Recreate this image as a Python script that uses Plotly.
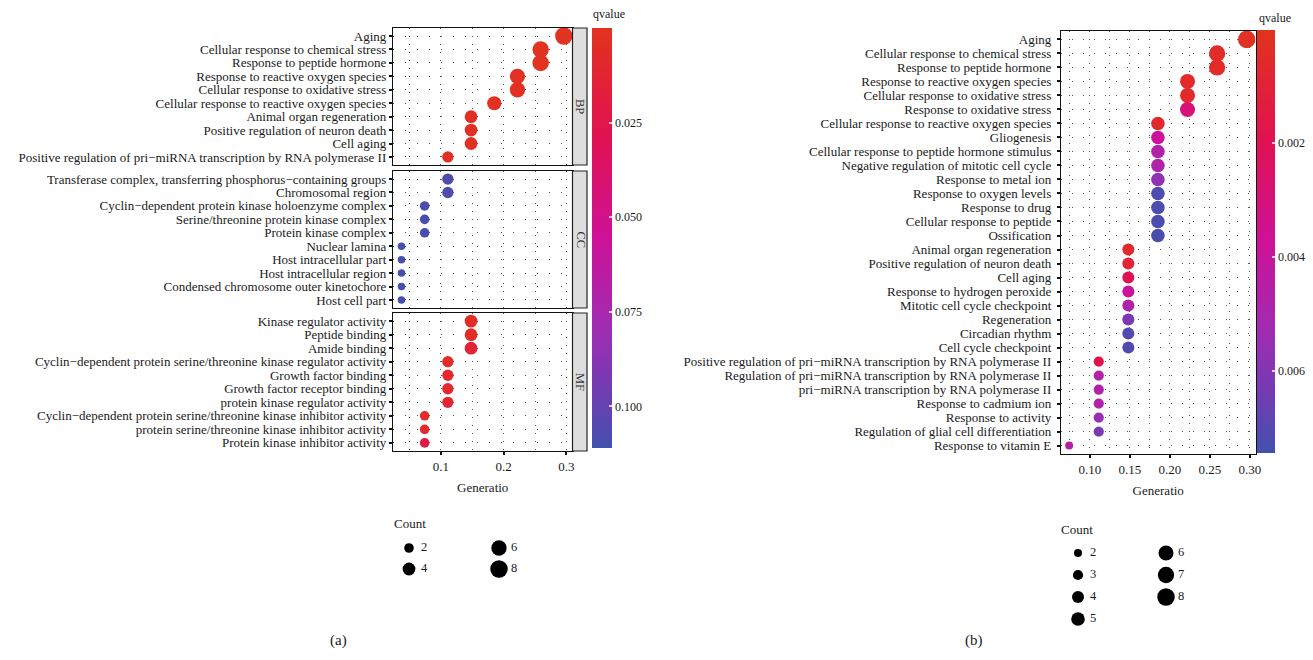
import math
import plotly.graph_objects as go

W, H = 1313, 660
FONT = "Liberation Serif"

# ---------------- Panel (a) data ----------------
bp_terms = ["Aging", "Cellular response to chemical stress", "Response to peptide hormone",
            "Response to reactive oxygen species", "Cellular response to oxidative stress",
            "Cellular response to reactive oxygen species", "Animal organ regeneration",
            "Positive regulation of neuron death", "Cell aging",
            "Positive regulation of pri−miRNA transcription by RNA polymerase II"]
bp_ratio = [0.296, 0.259, 0.259, 0.222, 0.222, 0.185, 0.148, 0.148, 0.148, 0.111]
bp_count = [8, 7, 7, 6, 6, 5, 4, 4, 4, 3]
bp_q = [0.001, 0.001, 0.001, 0.002, 0.002, 0.002, 0.003, 0.003, 0.003, 0.004]

cc_terms = ["Transferase complex, transferring phosphorus−containing groups", "Chromosomal region",
            "Cyclin−dependent protein kinase holoenzyme complex", "Serine/threonine protein kinase complex",
            "Protein kinase complex", "Nuclear lamina", "Host intracellular part",
            "Host intracellular region", "Condensed chromosome outer kinetochore", "Host cell part"]
cc_ratio = [0.111, 0.111, 0.074, 0.074, 0.074, 0.037, 0.037, 0.037, 0.037, 0.037]
cc_count = [3, 3, 2, 2, 2, 1, 1, 1, 1, 1]
cc_q = [0.108, 0.108, 0.109, 0.109, 0.109, 0.110, 0.110, 0.110, 0.110, 0.110]

mf_terms = ["Kinase regulator activity", "Peptide binding", "Amide binding",
            "Cyclin−dependent protein serine/threonine kinase regulator activity",
            "Growth factor binding", "Growth factor receptor binding", "protein kinase regulator activity",
            "Cyclin−dependent protein serine/threonine kinase inhibitor activity",
            "protein serine/threonine kinase inhibitor activity", "Protein kinase inhibitor activity"]
mf_ratio = [0.148, 0.148, 0.148, 0.111, 0.111, 0.111, 0.111, 0.074, 0.074, 0.074]
mf_count = [4, 4, 4, 3, 3, 3, 3, 2, 2, 2]
mf_q = [0.004, 0.005, 0.014, 0.006, 0.008, 0.008, 0.013, 0.006, 0.008, 0.022]

a_qrange = [0.0, 0.111]
a_qticks = [0.025, 0.050, 0.075, 0.100]
a_qtick_text = ["0.025", "0.050", "0.075", "0.100"]
a_xticks = [0.1, 0.2, 0.3]
a_xtick_text = ["0.1", "0.2", "0.3"]
a_legend_counts = [2, 4, 6, 8]

# ---------------- Panel (b) data ----------------
b_terms = ["Aging", "Cellular response to chemical stress", "Response to peptide hormone",
           "Response to reactive oxygen species", "Cellular response to oxidative stress",
           "Response to oxidative stress", "Cellular response to reactive oxygen species",
           "Gliogenesis", "Cellular response to peptide hormone stimulus",
           "Negative regulation of mitotic cell cycle", "Response to metal ion",
           "Response to oxygen levels", "Response to drug", "Cellular response to peptide",
           "Ossification", "Animal organ regeneration", "Positive regulation of neuron death",
           "Cell aging", "Response to hydrogen peroxide", "Mitotic cell cycle checkpoint",
           "Regeneration", "Circadian rhythm", "Cell cycle checkpoint",
           "Positive regulation of pri−miRNA transcription by RNA polymerase II",
           "Regulation of pri−miRNA transcription by RNA polymerase II",
           "pri−miRNA transcription by RNA polymerase II", "Response to cadmium ion",
           "Response to activity", "Regulation of glial cell differentiation", "Response to vitamin E"]
b_ratio = [0.296, 0.259, 0.259, 0.222, 0.222, 0.222, 0.185, 0.185, 0.185, 0.185, 0.185,
           0.185, 0.185, 0.185, 0.185, 0.148, 0.148, 0.148, 0.148, 0.148, 0.148, 0.148, 0.148,
           0.111, 0.111, 0.111, 0.111, 0.111, 0.111, 0.074]
b_count = [8, 7, 7, 6, 6, 6, 5, 5, 5, 5, 5, 5, 5, 5, 5, 4, 4, 4, 4, 4, 4, 4, 4,
           3, 3, 3, 3, 3, 3, 2]
b_q = [0.0002, 0.0004, 0.0004, 0.0005, 0.0006, 0.0029, 0.0006, 0.0038, 0.0047, 0.0048,
       0.0057, 0.0072, 0.0072, 0.0073, 0.0073, 0.0006, 0.0008, 0.0020, 0.0038, 0.0048,
       0.0062, 0.0071, 0.0071, 0.0018, 0.0047, 0.0047, 0.0047, 0.0055, 0.0062, 0.0046]

b_qrange = [0.00002, 0.00744]
b_qticks = [0.002, 0.004, 0.006]
b_qtick_text = ["0.002", "0.004", "0.006"]
b_xticks = [0.10, 0.15, 0.20, 0.25, 0.30]
b_xtick_text = ["0.10", "0.15", "0.20", "0.25", "0.30"]
b_legend_counts = [2, 3, 4, 5, 6, 7, 8]

# ---------------- helpers ----------------
def px(x):
    return x / W

def py(y):
    return 1 - y / H

def size_a(c):
    return math.sqrt(7.5 ** 2 + (17.5 ** 2 - 7.5 ** 2) * (c - 1) / 7)

def size_b(c):
    return math.sqrt(8 ** 2 + (17.5 ** 2 - 8 ** 2) * (c - 2) / 6)

# colour scale from low qvalue (red) to high qvalue (blue); the colour bar is drawn
# with low values at the top, so colours are mapped on the negated qvalue
low_to_high = [[0.0, "#E2331E"], [0.25, "#E1124F"], [0.5, "#CD1197"],
               [0.72, "#9E2DB3"], [0.87, "#6E3DB2"], [1.0, "#4351AD"]]
colorscale = [[1 - p, c] for p, c in reversed(low_to_high)]

def neg(v):
    return [-x for x in v]

TXT = "#1a1a1a"
GRID = "#555555"
LBL = 13

fig = go.Figure()

a_panels = [("BP", bp_terms, bp_ratio, bp_count, bp_q, "x2", "y", 28, 165),
            ("CC", cc_terms, cc_ratio, cc_count, cc_q, "x3", "y2", 171, 308),
            ("MF", mf_terms, mf_ratio, mf_count, mf_q, "x", "y3", 313, 451)]

A_L, A_R = 393, 572.5
for name, terms, ratio, count, q, xa, ya, top, bot in a_panels:
    fig.add_trace(go.Scatter(
        x=ratio, y=terms, mode="markers", xaxis=xa, yaxis=ya, showlegend=False,
        marker=dict(size=[size_a(c) for c in count], color=neg(q), coloraxis="coloraxis",
                    line=dict(width=0), opacity=1)))

fig.add_trace(go.Scatter(
    x=b_ratio, y=b_terms, mode="markers", xaxis="x4", yaxis="y4", showlegend=False,
    marker=dict(size=[size_b(c) for c in b_count], color=neg(b_q), coloraxis="coloraxis2",
                line=dict(width=0), opacity=1)))

# size legends (hidden pixel-space axes)
la_x = [409 + (i // 2) * 90 for i in range(len(a_legend_counts))]
la_y = [548 + (i % 2) * 21 for i in range(len(a_legend_counts))]
fig.add_trace(go.Scatter(x=la_x, y=la_y, mode="markers", xaxis="x5", yaxis="y5", showlegend=False,
                         marker=dict(size=[size_a(c) for c in a_legend_counts], color="black",
                                     opacity=1, line=dict(width=0))))
fig.add_trace(go.Scatter(x=[v + 12 for v in la_x], y=la_y, mode="text", xaxis="x5", yaxis="y5",
                         showlegend=False, text=[str(c) for c in a_legend_counts],
                         textposition="middle right", textfont=dict(family=FONT, size=12.5, color=TXT)))

lb_x = [1078 + (i // 4) * 88 for i in range(len(b_legend_counts))]
lb_y = [553 + (i % 4) * 22 for i in range(len(b_legend_counts))]
fig.add_trace(go.Scatter(x=lb_x, y=lb_y, mode="markers", xaxis="x6", yaxis="y6", showlegend=False,
                         marker=dict(size=[size_b(c) for c in b_legend_counts], color="black",
                                     opacity=1, line=dict(width=0))))
fig.add_trace(go.Scatter(x=[v + 12 for v in lb_x], y=lb_y, mode="text", xaxis="x6", yaxis="y6",
                         showlegend=False, text=[str(c) for c in b_legend_counts],
                         textposition="middle right", textfont=dict(family=FONT, size=12.5, color=TXT)))

tickfont = dict(family=FONT, size=LBL, color=TXT)

def xaxis_common(rng, minor_dtick):
    return dict(range=rng, showline=True, mirror=True, linecolor="#111", linewidth=1.3,
                showgrid=True, gridcolor=GRID, gridwidth=1, griddash="1px,7px",
                minor=dict(dtick=minor_dtick, showgrid=True, gridcolor=GRID, griddash="1px,7px",
                           gridwidth=1),
                zeroline=False, automargin=False, tickfont=tickfont, fixedrange=True)

def yaxis_common(terms, dash, standoff):
    n = len(terms)
    return dict(type="category", categoryorder="array", categoryarray=terms,
                tickmode="array", tickvals=terms, ticktext=terms,
                range=[n - 0.4, -0.6], showline=True, mirror=True, linecolor="#111", linewidth=1.3,
                showgrid=True, gridcolor=GRID, gridwidth=1, griddash=dash, zeroline=False,
                ticks="outside", ticklen=3, tickwidth=1.5, tickcolor="#111",
                ticklabelstandoff=standoff,
                automargin=False, tickfont=tickfont, fixedrange=True)

a_range = [0.0235, 0.3098]
xa_dom = [px(A_L), px(A_R)]
title_font = dict(family=FONT, size=13, color=TXT)

xaxis = xaxis_common(a_range, 0.05)
xaxis.update(domain=xa_dom, anchor="y3", tickvals=a_xticks, ticktext=a_xtick_text,
             ticks="outside", ticklen=3, tickwidth=1.5, tickcolor="#111",
             title=dict(text="Generatio", font=title_font, standoff=10))
xaxis2 = xaxis_common(a_range, 0.05)
xaxis2.update(domain=xa_dom, anchor="y", tickvals=a_xticks, showticklabels=False, ticks="")
xaxis3 = xaxis_common(a_range, 0.05)
xaxis3.update(domain=xa_dom, anchor="y2", tickvals=a_xticks, showticklabels=False, ticks="")

yaxis = yaxis_common(bp_terms, "1px,11px", 0)
yaxis.update(domain=[py(165), py(28)], anchor="x2")
yaxis2 = yaxis_common(cc_terms, "1px,11px", 0)
yaxis2.update(domain=[py(308), py(171)], anchor="x3")
yaxis3 = yaxis_common(mf_terms, "1px,11px", 0)
yaxis3.update(domain=[py(451), py(313)], anchor="x")

B_L, B_R = 1061, 1255.5
xaxis4 = xaxis_common([0.0638, 0.307], 0.025)
xaxis4.update(domain=[px(B_L), px(B_R)], anchor="y4", tickvals=b_xticks, ticktext=b_xtick_text,
              ticks="outside", ticklen=3, tickwidth=1.5, tickcolor="#111",
              title=dict(text="Generatio", font=title_font, standoff=10))
yaxis4 = yaxis_common(b_terms, "1px,10px", 3)
yaxis4.update(domain=[py(454), py(31)], anchor="x4")

hidden = dict(visible=False, fixedrange=True, showgrid=False, zeroline=False)
xaxis5 = dict(hidden, domain=[px(380), px(560)], range=[380, 560], anchor="y5")
yaxis5 = dict(hidden, domain=[py(600), py(505)], range=[600, 505], anchor="x5")
xaxis6 = dict(hidden, domain=[px(1040), px(1230)], range=[1040, 1230], anchor="y6")
yaxis6 = dict(hidden, domain=[py(640), py(510)], range=[640, 510], anchor="x6")

cbfont = dict(family=FONT, size=12, color=TXT)
coloraxis = dict(colorscale=colorscale, cmin=-a_qrange[1], cmax=-a_qrange[0],
                 colorbar=dict(x=px(592), xanchor="left", y=py(28), yanchor="top",
                               len=420 / H, lenmode="fraction", thickness=20, xpad=0, ypad=0,
                               outlinewidth=0, tickvals=neg(a_qticks), ticktext=a_qtick_text,
                               ticks="inside", ticklen=3, tickcolor="#f4c4e4", tickwidth=2,
                               tickfont=cbfont))
coloraxis2 = dict(colorscale=colorscale, cmin=-b_qrange[1], cmax=-b_qrange[0],
                  colorbar=dict(x=px(1257), xanchor="left", y=py(30), yanchor="top",
                                len=423 / H, lenmode="fraction", thickness=18, xpad=0, ypad=0,
                                outlinewidth=0, tickvals=neg(b_qticks), ticktext=b_qtick_text,
                                ticks="inside", ticklen=3, tickcolor="#f4c4e4", tickwidth=2,
                                tickfont=cbfont))

shapes = []
annotations = []
for name, terms, ratio, count, q, xa, ya, top, bot in a_panels:
    shapes.append(dict(type="rect", xref="paper", yref="paper", x0=px(A_R), x1=px(587),
                       y0=py(bot), y1=py(top), fillcolor="#DEDEDE",
                       line=dict(color="#222", width=1.2), layer="above"))
    annotations.append(dict(text=name, x=px(580), y=py((top + bot) / 2), xref="paper", yref="paper",
                            showarrow=False, textangle=90, font=dict(family=FONT, size=12.5, color="#333")))

annotations += [
    dict(text="qvalue", x=px(591), y=py(14), xref="paper", yref="paper", xanchor="left",
         yanchor="middle", showarrow=False, font=dict(family=FONT, size=12, color=TXT)),
    dict(text="qvalue", x=px(1257), y=py(18), xref="paper", yref="paper", xanchor="left",
         yanchor="middle", showarrow=False, font=dict(family=FONT, size=12, color=TXT)),
    dict(text="Count", x=px(392), y=py(523), xref="paper", yref="paper", xanchor="left",
         yanchor="middle", showarrow=False, font=dict(family=FONT, size=13, color=TXT)),
    dict(text="Count", x=px(1059), y=py(529), xref="paper", yref="paper", xanchor="left",
         yanchor="middle", showarrow=False, font=dict(family=FONT, size=13, color=TXT)),
    dict(text="(a)", x=px(328), y=py(651), xref="paper", yref="paper", showarrow=False,
         font=dict(family=FONT, size=15, color=TXT)),
    dict(text="(b)", x=px(985), y=py(651), xref="paper", yref="paper", showarrow=False,
         font=dict(family=FONT, size=15, color=TXT)),
]

fig.update_layout(
    width=W, height=H, margin=dict(l=0, r=0, t=0, b=0),
    paper_bgcolor="white", plot_bgcolor="white",
    font=dict(family=FONT, size=12, color=TXT),
    xaxis=xaxis, xaxis2=xaxis2, xaxis3=xaxis3, xaxis4=xaxis4, xaxis5=xaxis5, xaxis6=xaxis6,
    yaxis=yaxis, yaxis2=yaxis2, yaxis3=yaxis3, yaxis4=yaxis4, yaxis5=yaxis5, yaxis6=yaxis6,
    coloraxis=coloraxis, coloraxis2=coloraxis2,
    shapes=shapes, annotations=annotations, showlegend=False,
)

fig.write_html("out.html")
